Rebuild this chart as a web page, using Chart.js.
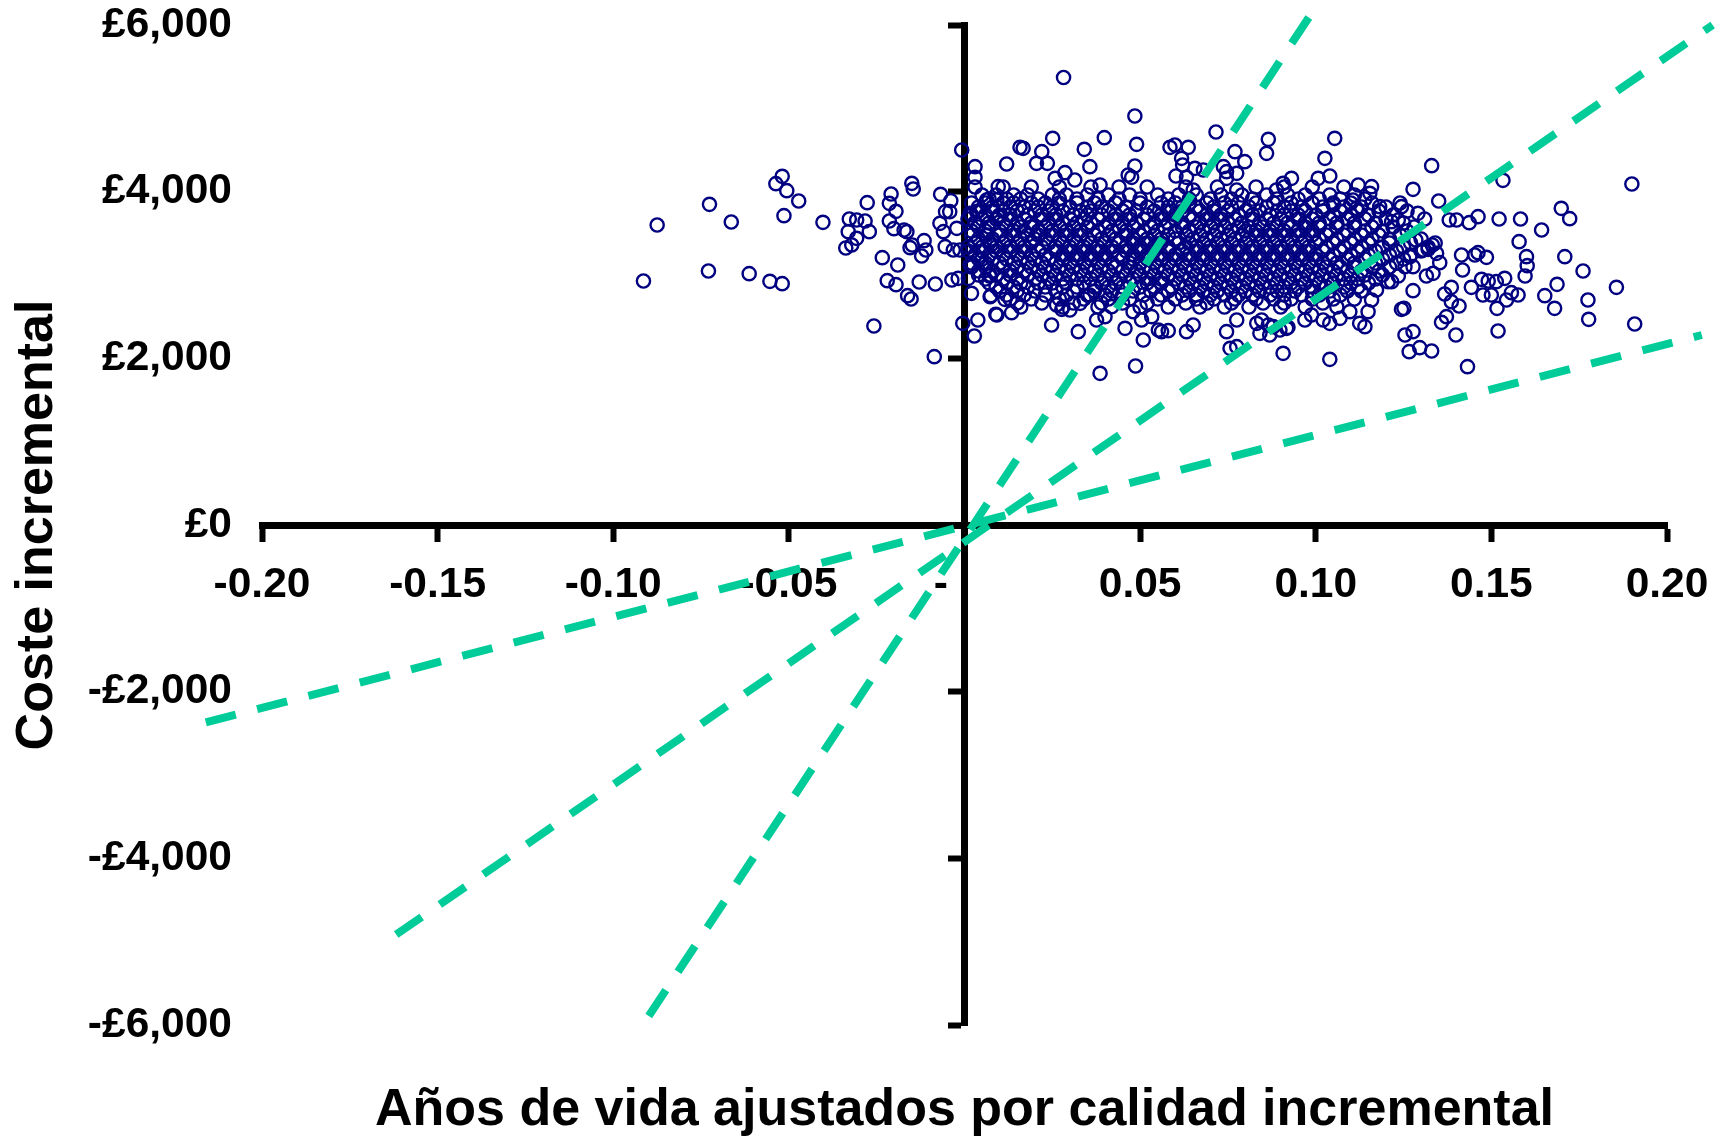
<!DOCTYPE html>
<html>
<head>
<meta charset="utf-8">
<title>Plano coste-efectividad</title>
<script src="https://cdn.jsdelivr.net/npm/chart.js@4.4.1/dist/chart.umd.min.js"></script>
<style>
  html, body { margin: 0; padding: 0; background: #fff; }
  canvas { display: block; }
</style>
</head>
<body>
<canvas id="plane" width="1724" height="1137"></canvas>
<script>
// axis ticks
const qalyTicks = [-0.20, -0.15, -0.10, -0.05, 0, 0.05, 0.10, 0.15, 0.20];
const costTicks = [-6000, -4000, -2000, 0, 2000, 4000, 6000];

// threshold lines, ends [qaly, cost]
const lineLow  = [[-0.216, -2369], [0.2099, 2280]];
const lineMid  = [[-0.1618, -4915], [0.2130, 6000]];
const lineHigh = [[-0.0899, -5892], [0.0988, 6140]];

// simulations left of / near the cost axis [qaly, cost]
const leftPoints = [
  [-0.0914,2928],[-0.0875,3600],[-0.0729,3048],[-0.0726,3848],[-0.0664,3636],[-0.0613,3016],
  [-0.0554,2924],[-0.0519,2896],[-0.0537,4096],[-0.0519,4184],[-0.0506,4012],[-0.0514,3712],
  [-0.0472,3888],[-0.0403,3632],[-0.0328,3672],[-0.0307,3660],[-0.0283,3648],[-0.0271,3520],
  [-0.0331,3520],[-0.0307,3440],[-0.0321,3360],[-0.0338,3324],[-0.0277,3868],[-0.0258,2388],
  [-0.0234,3208],[-0.0220,2932],[-0.0195,2884],[-0.0190,3120],[-0.0162,2752],[-0.0152,2712],
  [-0.0129,2916],[-0.0083,2892],[-0.0086,2020],[-0.0209,3972],[-0.0214,3860],[-0.0195,3764],
  [-0.0214,3648],[-0.0201,3556],[-0.0172,3540],[-0.0164,3520],[-0.0150,4100],[-0.0146,4032],
  [-0.0149,3360],[-0.0155,3328],[-0.0115,3412],[-0.0110,3300],[-0.0122,3228],[-0.0068,3968],
  [-0.0039,3892],[-0.0054,3760],[-0.0042,3760],[-0.0070,3620],[-0.0060,3520],[-0.0055,3340],
  [-0.0032,3300],[-0.0013,3300],[-0.0036,2940],[-0.0018,2960],[-0.0005,2420],[-0.0022,3560],
  [-0.0008,4500],
  [0.0011,2960],[0.0016,3120],[0.0038,2460],[0.0028,2268],[0.0020,2780],[0.0075,2752],
  [0.0089,2528],[0.0071,2988],[0.0049,3188],[0.0077,3368],[0.0063,3480],[0.0063,3900],
  [0.0035,3760],[0.0016,3740],[0.0030,3628],[0.0030,4300],[0.0030,4172],[0.0096,4060],
  [0.0096,3700],[0.0092,3900]
];

// upper and lower fringe of the main cloud
const fringePoints = [
  [0.0282,5370],[0.0485,4908],[0.0490,4568],[0.0716,4716],[0.0398,4648],[0.0251,4640],[0.0158,4532],
  [0.0167,4520],[0.0220,4480],[0.0341,4508],[0.0120,4332],[0.0205,4340],[0.0236,4340],[0.0357,4300],
  [0.0258,4160],[0.0286,4228],[0.0314,4140],[0.0386,4080],[0.0485,4308],[0.0466,4200],[0.0476,4172],
  [0.0585,4532],[0.0599,4560],[0.0637,4532],[0.0618,4400],[0.0621,4320],[0.0656,4280],[0.0680,4260],
  [0.0602,4188],[0.0632,4172],[0.0651,4020],[0.0737,4300],[0.0746,4240],[0.0775,4220],[0.0798,4360],
  [0.0770,4480],[0.0746,4160],[0.0775,4020],[0.0865,4628],[0.0860,4460],[0.0888,4020],[0.0931,4160],
  [0.0907,4100],[0.1054,4640],[0.1026,4400],[0.1007,4160],[0.1040,4188],[0.1121,4080],[0.1159,4060],
  [0.1154,3980],[0.1182,3820],[0.1106,3900],[0.1116,3800],[0.1050,3840],
  [0.0386,1820],[0.0487,1908],[0.0907,2060],[0.1040,1988],[0.0756,2120],[0.0775,2140],[0.0509,2220],
  [0.0552,2340],[0.0561,2320],[0.0580,2332],[0.0632,2320],[0.0651,2400],[0.0457,2360],[0.0324,2320],
  [0.0248,2400],[0.0092,2520],[0.0134,2548],[0.0073,2740],[0.0115,2708],[0.0073,3000],[0.0262,2640],
  [0.0277,2588],[0.0300,2580],[0.0329,2660],[0.0357,2760],[0.0376,2460],[0.0400,2500],[0.0419,2620],
  [0.0480,2560],[0.0504,2460],[0.0533,2500],[0.0746,2320],[0.0775,2460],[0.0832,2420],[0.0846,2460],
  [0.0865,2400],[0.0898,2340],[0.0921,2372],[0.0969,2460],[0.0988,2520],[0.1021,2460],[0.1040,2420],
  [0.1069,2480],[0.1097,2560],[0.1125,2420],[0.1140,2380],[0.1149,2560],[0.1159,2700],[0.1173,2820],
  [0.1206,2920]
];

// right tail
const rightPoints = [
  [0.1330,4312],[0.1277,4028],[0.1350,3888],[0.1533,4136],[0.1900,4092],[0.1699,3800],[0.1723,3676],
  [0.1643,3540],[0.1583,3672],[0.1522,3672],[0.1462,3700],[0.1437,3628],[0.1401,3660],[0.1380,3660],
  [0.1579,3400],[0.1600,3220],[0.1602,3112],[0.1596,2988],[0.1709,3220],[0.1761,3048],[0.1856,2852],
  [0.1687,2888],[0.1652,2752],[0.1680,2600],[0.1775,2700],[0.1777,2468],[0.1908,2412],[0.1519,2328],
  [0.1432,1900],[0.1399,2280],[0.1516,2600],[0.1543,2700],[0.1557,2788],[0.1576,2760],[0.1476,2760],
  [0.1500,2760],[0.1443,2852],[0.1472,2948],[0.1491,2928],[0.1514,2920],[0.1538,2960],[0.1418,3060],
  [0.1415,3240],[0.1453,3240],[0.1486,3212],[0.1462,3268],[0.1386,2852],[0.1367,2772],[0.1386,2680],
  [0.1408,2628],[0.1372,2500],[0.1358,2432],[0.1251,2600],[0.1244,2588],[0.1254,2280],[0.1277,2320],
  [0.1266,2080],[0.1296,2128],[0.1330,2088],[0.1277,2812],[0.1353,3148],[0.1334,3020],[0.1315,2988],
  [0.1332,3360],[0.1344,3260],[0.1320,3308],[0.1306,3300],[0.1268,3220],[0.1277,3100],[0.1254,3100],
  [0.1216,2920],[0.1235,2988],[0.1285,3420],[0.1291,3740],[0.1244,3820],[0.1235,3660],[0.1216,3640],
  [0.0841,2300],[0.0869,2280],[0.0917,2360],[0.0879,2380]
];

// dense core, read row by row: one cost level, the qalys seen along it
const coreCost = [4056, 3960, 3912, 3864, 3816, 3768, 3720, 3672, 3624, 3576, 3528, 3480, 3432, 3384, 3336,
                  3288, 3240, 3192, 3144, 3096, 3048, 3000, 2952, 2904, 2856, 2808, 2760, 2712, 2664, 2616];
const coreQaly = [
  [0.003,0.011,0.019,0.027,0.036,0.044,0.052,0.063,0.072,0.083,0.091,0.099,0.108],
  [0.005,0.009,0.014,0.018,0.025,0.029,0.035,0.041,0.047,0.055,0.061,0.066,0.073,0.079,0.086,0.092,0.097,0.104,0.111],
  [0.007,0.012,0.016,0.021,0.027,0.032,0.038,0.044,0.050,0.058,0.064,0.070,0.076,0.082,0.089,0.095,0.101,0.107,0.114],
  [0.002,0.006,0.011,0.014,0.019,0.023,0.027,0.032,0.037,0.043,0.050,0.056,0.060,0.064,0.069,0.074,0.078,0.083,0.088,0.093,0.099,0.105,0.110,0.116,0.124],
  [0.004,0.008,0.013,0.017,0.021,0.025,0.030,0.035,0.039,0.046,0.052,0.058,0.062,0.066,0.071,0.076,0.081,0.086,0.091,0.096,0.102,0.108,0.113,0.120],
  [0.004,0.008,0.011,0.015,0.020,0.024,0.028,0.033,0.036,0.041,0.045,0.049,0.054,0.058,0.062,0.067,0.071,0.075,0.080,0.084,0.089,0.093,0.097,0.102,0.107,0.112,0.118,0.126],
  [0.002,0.006,0.010,0.013,0.018,0.022,0.026,0.031,0.035,0.039,0.043,0.047,0.052,0.056,0.060,0.064,0.069,0.073,0.078,0.082,0.087,0.091,0.095,0.100,0.105,0.110,0.115,0.122],
  [0.001,0.005,0.009,0.013,0.017,0.022,0.026,0.030,0.034,0.038,0.043,0.047,0.051,0.056,0.060,0.065,0.069,0.073,0.077,0.082,0.086,0.090,0.095,0.099,0.104,0.109,0.114,0.120,0.131],
  [0.003,0.007,0.011,0.015,0.019,0.024,0.028,0.032,0.036,0.041,0.045,0.049,0.054,0.058,0.062,0.067,0.071,0.075,0.079,0.084,0.088,0.092,0.097,0.101,0.106,0.111,0.117,0.125],
  [0.004,0.007,0.012,0.016,0.019,0.023,0.027,0.031,0.035,0.040,0.044,0.048,0.053,0.057,0.062,0.066,0.070,0.074,0.078,0.081,0.085,0.089,0.093,0.097,0.101,0.106,0.111,0.116,0.122,0.128],
  [0.002,0.006,0.010,0.014,0.017,0.021,0.025,0.029,0.033,0.038,0.042,0.046,0.051,0.055,0.060,0.064,0.068,0.072,0.076,0.080,0.083,0.087,0.091,0.095,0.099,0.104,0.109,0.114,0.119,0.126],
  [0.002,0.006,0.010,0.014,0.018,0.021,0.025,0.029,0.033,0.037,0.041,0.046,0.050,0.054,0.058,0.063,0.067,0.071,0.075,0.079,0.083,0.087,0.091,0.095,0.099,0.103,0.108,0.113,0.118,0.124],
  [0.004,0.008,0.012,0.016,0.020,0.023,0.027,0.031,0.035,0.039,0.043,0.048,0.052,0.056,0.060,0.065,0.069,0.073,0.077,0.081,0.085,0.089,0.093,0.097,0.101,0.106,0.111,0.116,0.121,0.130],
  [0.003,0.007,0.011,0.015,0.019,0.024,0.028,0.032,0.036,0.040,0.044,0.048,0.052,0.056,0.061,0.064,0.068,0.072,0.076,0.080,0.084,0.088,0.092,0.096,0.100,0.105,0.110,0.115,0.121,0.127,0.134],
  [0.001,0.005,0.009,0.013,0.017,0.022,0.026,0.030,0.034,0.038,0.042,0.046,0.050,0.054,0.058,0.063,0.066,0.070,0.074,0.078,0.082,0.086,0.090,0.094,0.098,0.103,0.108,0.113,0.119,0.125,0.132],
  [0.001,0.005,0.009,0.013,0.017,0.021,0.026,0.030,0.034,0.038,0.042,0.046,0.050,0.054,0.058,0.062,0.066,0.070,0.074,0.078,0.082,0.086,0.090,0.094,0.098,0.102,0.107,0.112,0.117,0.123,0.130],
  [0.003,0.007,0.011,0.015,0.019,0.023,0.028,0.032,0.036,0.040,0.044,0.048,0.052,0.056,0.060,0.064,0.068,0.072,0.076,0.080,0.084,0.088,0.092,0.096,0.100,0.105,0.110,0.115,0.121,0.127],
  [0.004,0.008,0.012,0.016,0.020,0.024,0.028,0.032,0.036,0.040,0.045,0.048,0.052,0.056,0.060,0.064,0.068,0.072,0.076,0.080,0.084,0.088,0.092,0.096,0.100,0.104,0.109,0.114,0.119,0.125],
  [0.002,0.006,0.010,0.014,0.018,0.022,0.026,0.030,0.034,0.038,0.042,0.047,0.050,0.054,0.058,0.062,0.066,0.070,0.074,0.078,0.082,0.086,0.090,0.094,0.098,0.102,0.106,0.111,0.117,0.123],
  [0.002,0.006,0.011,0.015,0.019,0.023,0.027,0.031,0.035,0.039,0.043,0.047,0.051,0.055,0.059,0.063,0.067,0.071,0.075,0.079,0.083,0.087,0.091,0.095,0.099,0.103,0.107,0.111,0.116,0.121],
  [0.004,0.008,0.013,0.017,0.021,0.025,0.029,0.033,0.037,0.041,0.045,0.049,0.053,0.057,0.061,0.065,0.069,0.073,0.077,0.081,0.085,0.089,0.093,0.097,0.101,0.105,0.109,0.113,0.118],
  [0.004,0.009,0.013,0.018,0.022,0.026,0.030,0.034,0.038,0.042,0.046,0.050,0.054,0.058,0.062,0.066,0.070,0.074,0.078,0.082,0.086,0.090,0.094,0.098,0.102,0.106,0.110,0.114,0.119],
  [0.006,0.011,0.015,0.020,0.024,0.028,0.032,0.036,0.040,0.044,0.048,0.052,0.056,0.060,0.064,0.068,0.072,0.076,0.080,0.084,0.088,0.092,0.096,0.100,0.104,0.108,0.112,0.117],
  [0.007,0.012,0.016,0.021,0.025,0.029,0.034,0.039,0.043,0.047,0.052,0.056,0.061,0.065,0.069,0.073,0.077,0.081,0.085,0.089,0.093,0.097,0.101,0.105,0.110,0.115],
  [0.009,0.014,0.018,0.023,0.028,0.032,0.037,0.041,0.045,0.050,0.054,0.059,0.063,0.067,0.071,0.075,0.079,0.083,0.087,0.091,0.095,0.099,0.103,0.108,0.112],
  [0.010,0.015,0.020,0.026,0.031,0.037,0.042,0.048,0.053,0.058,0.064,0.068,0.072,0.076,0.080,0.084,0.089,0.094,0.099,0.104,0.109,0.113],
  [0.012,0.017,0.023,0.029,0.035,0.040,0.045,0.051,0.056,0.062,0.066,0.070,0.074,0.078,0.082,0.087,0.091,0.096,0.101,0.107],
  [0.013,0.019,0.027,0.034,0.041,0.047,0.055,0.060,0.066,0.071,0.077,0.083,0.088,0.093,0.099,0.105,0.111],
  [0.015,0.022,0.031,0.039,0.045,0.052,0.063,0.069,0.076,0.085,0.091,0.102],
  [0.016,0.028,0.038,0.050,0.058,0.067,0.074,0.081,0.090,0.097,0.106]
];

const fontFamily = '"Liberation Sans", Arial, Helvetica, sans-serif';
const tickFont = { family: fontFamily, size: 42.5, weight: 'bold' };

// gather every simulation into one point list
let simPoints = [];
leftPoints.concat(fringePoints, rightPoints).forEach(p => simPoints.push({ x: p[0], y: p[1] }));
for (let i = 0; i < coreCost.length; i++) {
  for (let j = 0; j < coreQaly[i].length; j++) {
    simPoints.push({ x: coreQaly[i][j], y: coreCost[i] });
  }
}

function thresholdLine(ends) {
  return {
    type: 'line',
    data: ends.map(p => ({ x: p[0], y: p[1] })),
    borderColor: '#00CC99',
    borderWidth: 8,
    borderDash: [31, 22],
    borderCapStyle: 'butt',
    pointRadius: 0,
    fill: false,
    clip: false,
    order: 0
  };
}

function costLabel(v) {
  if (v === 0) return '£0';
  return (v < 0 ? '-' : '') + '£' + Math.abs(v).toLocaleString('en-GB');
}

function qalyLabel(v) {
  if (Math.abs(v) < 1e-9) return '-    ';
  return v.toFixed(2);
}

const tickMarks = { display: true, drawOnChartArea: false, drawTicks: true, tickLength: 13, tickWidth: 6, tickColor: '#000' };

new Chart(document.getElementById('plane'), {
  type: 'scatter',
  data: {
    datasets: [
      thresholdLine(lineLow),
      thresholdLine(lineMid),
      thresholdLine(lineHigh),
      {
        data: simPoints,
        pointStyle: 'circle',
        pointRadius: 6.6,
        pointBorderWidth: 2.4,
        borderColor: '#000080',
        backgroundColor: 'rgba(0,0,0,0)',
        order: 1
      }
    ]
  },
  options: {
    responsive: false,
    animation: false,
    devicePixelRatio: 1,
    layout: { padding: { top: 25, right: 57, bottom: 0, left: 0 } },
    plugins: { legend: { display: false }, tooltip: { enabled: false } },
    scales: {
      x: {
        type: 'linear', position: { y: 0 }, min: -0.2, max: 0.2,
        afterBuildTicks: s => { s.ticks = qalyTicks.map(v => ({ value: v })); },
        afterFit: s => { s.height = 0; s.paddingLeft = 0; s.paddingRight = 0; },
        border: { display: true, color: '#000', width: 7 },
        grid: tickMarks,
        ticks: { color: '#000', font: tickFont, padding: 22, maxRotation: 0, autoSkip: false, callback: qalyLabel }
      },
      xTitle: {
        type: 'linear', position: 'bottom', min: -0.2, max: 0.2,
        afterFit: s => { s.height = 112; },
        border: { display: false }, grid: { display: false }, ticks: { display: false },
        title: {
          display: true, text: 'Años de vida ajustados por calidad incremental', color: '#000',
          font: { family: fontFamily, size: 52, weight: 'bold', lineHeight: 1 }, padding: { top: 0, bottom: 0 }
        }
      },
      y: {
        type: 'linear', position: { x: 0 }, min: -6000, max: 6000,
        afterBuildTicks: s => { s.ticks = costTicks.map(v => ({ value: v })); },
        afterFit: s => { s.width = 0; },
        border: { display: true, color: '#000', width: 7 },
        grid: tickMarks,
        ticks: { display: false }
      },
      yLabels: {
        type: 'linear', position: 'left', min: -6000, max: 6000,
        afterBuildTicks: s => { s.ticks = costTicks.map(v => ({ value: v })); },
        afterFit: s => { s.width = 262; s.paddingTop = 0; s.paddingBottom = 0; },
        border: { display: false }, grid: { display: false },
        ticks: { color: '#000', font: tickFont, padding: 22, callback: costLabel },
        title: {
          display: true, text: 'Coste incremental', color: '#000',
          font: { family: fontFamily, size: 52, weight: 'bold', lineHeight: 1.2 }, padding: { top: 6, bottom: 0 }
        }
      }
    }
  }
});
</script>
</body>
</html>
